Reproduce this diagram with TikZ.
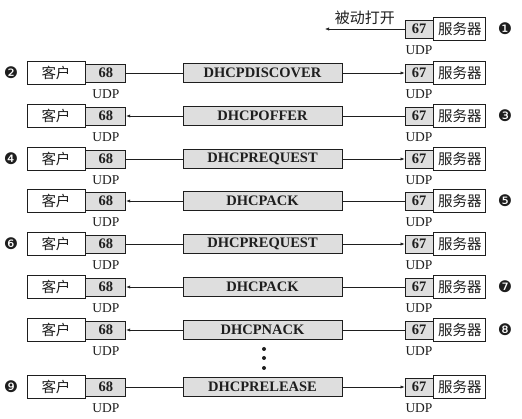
\documentclass[tikz,border=0pt]{standalone}
\usepackage{fontspec}
\setmainfont{Liberation Serif}
\newfontfamily\cjk{Noto Sans CJK SC}
\newfontfamily\dingfont{DejaVu Sans}
\usetikzlibrary{arrows.meta,positioning}
\definecolor{portgray}{RGB}{222,222,222}
\definecolor{inkblack}{RGB}{30,30,30}

\begin{document}
\begin{tikzpicture}[x=1pt,y=-1pt,
    every node/.style={font=\fontsize{13.5}{15}\selectfont,text=inkblack},
    host/.style={draw=inkblack,line width=0.8pt,fill=white,minimum height=23pt,inner sep=0pt,font=\cjk\fontsize{14.5}{16}\selectfont},
    port/.style={draw=inkblack,line width=0.8pt,fill=portgray,minimum height=18pt,inner sep=0pt,font=\bfseries\fontsize{14.5}{16}\selectfont},
    msg/.style={draw=inkblack,line width=0.8pt,fill=portgray,minimum width=159pt,minimum height=19pt,inner sep=0pt,font=\bfseries\fontsize{14.5}{16}\selectfont},
    udp/.style={below=7pt of #1,inner sep=0pt},
    stepno/.style={inner sep=0pt,font=\dingfont\fontsize{16}{18}\selectfont},
    link/.style={draw=inkblack,line width=0.6pt},
    tip/.style={link,-{Latex[length=4pt,width=3.2pt]}}]
  \useasboundingbox (0,0) rectangle (522,419);

  % passive open on the server
  \node[port,minimum width=28pt] (s0) at (419,29) {67};
  \node[host,minimum width=52pt,right=0pt of s0] (srv0) {服务器};
  \node[udp=s0] (us0) {UDP};
  \node[stepno] (n0) at (505,29) {❶};
  \coordinate (open) at (325,29);
  \draw[tip] (s0) -- (open) node[midway,above=3pt,inner sep=1pt,font=\cjk\fontsize{15}{17}\selectfont] (lopen) {被动打开};

  % one row per message: number / y / name / from / to / marker x / marker
  \foreach \i/\ypos/\msgname/\a/\b/\mx/\mk in {
      1/73/DHCPDISCOVER/p/s/11/❷,
      2/116/DHCPOFFER/s/p/505/❸,
      3/159/DHCPREQUEST/p/s/11/❹,
      4/201/DHCPACK/s/p/505/❺,
      5/244/DHCPREQUEST/p/s/11/❻,
      6/287/DHCPACK/s/p/505/❼,
      7/330/DHCPNACK/s/p/505/❽,
      8/387/DHCPRELEASE/p/s/11/❾} {
    \node[host,minimum width=58pt] (cli\i) at (56,\ypos) {客户};
    \node[port,minimum width=40pt,right=0pt of cli\i] (p\i) {68};
    \node[udp=p\i] (up\i) {UDP};
    \node[msg] (m\i) at (262.5,\ypos) {\msgname};
    \node[port,minimum width=28pt] (s\i) at (419,\ypos) {67};
    \node[host,minimum width=52pt,right=0pt of s\i] (srv\i) {服务器};
    \node[udp=s\i] (us\i) {UDP};
    \node[stepno] (n\i) at (\mx,\ypos) {\mk};
    \draw[link] (\a\i) -- (m\i);
    \draw[tip] (m\i) -- (\b\i);
  }

  % more exchanges left out
  \foreach \d in {349,358,368}
    \fill[inkblack] (264,\d) circle (2pt);
\end{tikzpicture}
\end{document}
